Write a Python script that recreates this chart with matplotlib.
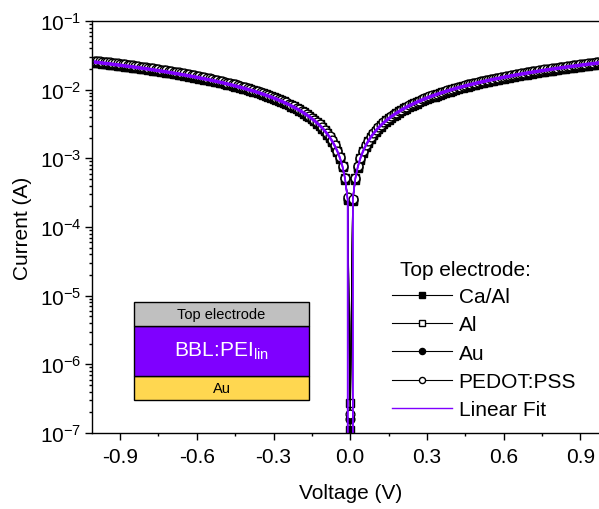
import numpy as np
import matplotlib
matplotlib.use("Agg")
import matplotlib.pyplot as plt
from matplotlib.lines import Line2D
from matplotlib.patches import Rectangle
from matplotlib.ticker import MultipleLocator, LogLocator, LogFormatterMathtext, NullFormatter

plt.rcParams["font.family"] = ["Liberation Sans", "DejaVu Sans"]
plt.rcParams["mathtext.fontset"] = "custom"
plt.rcParams["mathtext.rm"] = "Liberation Sans"
plt.rcParams["mathtext.it"] = "Liberation Sans:italic"
plt.rcParams["mathtext.default"] = "regular"
plt.rcParams["axes.unicode_minus"] = False

# ---------------------------------------------------------------------------
# Data: voltage sweep in V, |current| in mA
# ---------------------------------------------------------------------------

VOLTAGE = [
    -1.00, -0.99, -0.98, -0.97, -0.96, -0.95, -0.94, -0.93, -0.92, -0.91,
    -0.90, -0.89, -0.88, -0.87, -0.86, -0.85, -0.84, -0.83, -0.82, -0.81,
    -0.80, -0.79, -0.78, -0.77, -0.76, -0.75, -0.74, -0.73, -0.72, -0.71,
    -0.70, -0.69, -0.68, -0.67, -0.66, -0.65, -0.64, -0.63, -0.62, -0.61,
    -0.60, -0.59, -0.58, -0.57, -0.56, -0.55, -0.54, -0.53, -0.52, -0.51,
    -0.50, -0.49, -0.48, -0.47, -0.46, -0.45, -0.44, -0.43, -0.42, -0.41,
    -0.40, -0.39, -0.38, -0.37, -0.36, -0.35, -0.34, -0.33, -0.32, -0.31,
    -0.30, -0.29, -0.28, -0.27, -0.26, -0.25, -0.24, -0.23, -0.22, -0.21,
    -0.20, -0.19, -0.18, -0.17, -0.16, -0.15, -0.14, -0.13, -0.12, -0.11,
    -0.10, -0.09, -0.08, -0.07, -0.06, -0.05, -0.04, -0.03, -0.02, -0.01,
    0.00,
    0.01, 0.02, 0.03, 0.04, 0.05, 0.06, 0.07, 0.08, 0.09, 0.10,
    0.11, 0.12, 0.13, 0.14, 0.15, 0.16, 0.17, 0.18, 0.19, 0.20,
    0.21, 0.22, 0.23, 0.24, 0.25, 0.26, 0.27, 0.28, 0.29, 0.30,
    0.31, 0.32, 0.33, 0.34, 0.35, 0.36, 0.37, 0.38, 0.39, 0.40,
    0.41, 0.42, 0.43, 0.44, 0.45, 0.46, 0.47, 0.48, 0.49, 0.50,
    0.51, 0.52, 0.53, 0.54, 0.55, 0.56, 0.57, 0.58, 0.59, 0.60,
    0.61, 0.62, 0.63, 0.64, 0.65, 0.66, 0.67, 0.68, 0.69, 0.70,
    0.71, 0.72, 0.73, 0.74, 0.75, 0.76, 0.77, 0.78, 0.79, 0.80,
    0.81, 0.82, 0.83, 0.84, 0.85, 0.86, 0.87, 0.88, 0.89, 0.90,
    0.91, 0.92, 0.93, 0.94, 0.95, 0.96, 0.97, 0.98, 0.99, 1.00,
]

CA_AL_MA = [
    24.6, 24.4, 24.1, 23.9, 23.6, 23.4, 23.1, 22.9, 22.6, 22.4,
    22.1, 21.9, 21.6, 21.4, 21.2, 20.9, 20.7, 20.4, 20.2, 19.9,
    19.7, 19.4, 19.2, 18.9, 18.7, 18.5, 18.2, 18.0, 17.7, 17.5,
    17.2, 17.0, 16.7, 16.5, 16.2, 16.0, 15.7, 15.5, 15.3, 15.0,
    14.8, 14.5, 14.3, 14.0, 13.8, 13.5, 13.3, 13.0, 12.8, 12.5,
    12.3, 12.1, 11.8, 11.6, 11.3, 11.1, 10.8, 10.6, 10.3, 10.1,
    9.84, 9.59, 9.35, 9.10, 8.86, 8.61, 8.36, 8.12, 7.87, 7.63,
    7.38, 7.13, 6.89, 6.64, 6.40, 6.15, 5.90, 5.66, 5.41, 5.17,
    4.92, 4.67, 4.43, 4.18, 3.94, 3.69, 3.44, 3.20, 2.95, 2.71,
    2.46, 2.21, 1.97, 1.72, 1.48, 1.23, 0.98, 0.74, 0.49, 0.25,
    1.1e-4,
    0.24, 0.48, 0.72, 0.96, 1.21, 1.45, 1.69, 1.93, 2.17, 2.41,
    2.65, 2.89, 3.13, 3.37, 3.62, 3.86, 4.10, 4.34, 4.58, 4.82,
    5.06, 5.30, 5.54, 5.78, 6.03, 6.27, 6.51, 6.75, 6.99, 7.23,
    7.47, 7.71, 7.95, 8.19, 8.44, 8.68, 8.92, 9.16, 9.40, 9.64,
    9.88, 10.1, 10.4, 10.6, 10.8, 11.1, 11.3, 11.6, 11.8, 12.1,
    12.3, 12.5, 12.8, 13.0, 13.3, 13.5, 13.7, 14.0, 14.2, 14.5,
    14.7, 14.9, 15.2, 15.4, 15.7, 15.9, 16.1, 16.4, 16.6, 16.9,
    17.1, 17.4, 17.6, 17.8, 18.1, 18.3, 18.6, 18.8, 19.0, 19.3,
    19.5, 19.8, 20.0, 20.2, 20.5, 20.7, 21.0, 21.2, 21.4, 21.7,
    21.9, 22.2, 22.4, 22.7, 22.9, 23.1, 23.4, 23.6, 23.9, 24.1,
]

AL_MA = [
    25.9, 25.6, 25.4, 25.1, 24.9, 24.6, 24.3, 24.1, 23.8, 23.6,
    23.3, 23.1, 22.8, 22.5, 22.3, 22.0, 21.8, 21.5, 21.2, 21.0,
    20.7, 20.5, 20.2, 19.9, 19.7, 19.4, 19.2, 18.9, 18.6, 18.4,
    18.1, 17.9, 17.6, 17.4, 17.1, 16.8, 16.6, 16.3, 16.1, 15.8,
    15.5, 15.3, 15.0, 14.8, 14.5, 14.2, 14.0, 13.7, 13.5, 13.2,
    13.0, 12.7, 12.4, 12.2, 11.9, 11.7, 11.4, 11.1, 10.9, 10.6,
    10.4, 10.1, 9.84, 9.58, 9.32, 9.07, 8.81, 8.55, 8.29, 8.03,
    7.77, 7.51, 7.25, 6.99, 6.73, 6.48, 6.22, 5.96, 5.70, 5.44,
    5.18, 4.92, 4.66, 4.40, 4.14, 3.89, 3.63, 3.37, 3.11, 2.85,
    2.59, 2.33, 2.07, 1.81, 1.55, 1.30, 1.04, 0.78, 0.52, 0.26,
    2.7e-4,
    0.25, 0.51, 0.76, 1.02, 1.27, 1.52, 1.78, 2.03, 2.29, 2.54,
    2.79, 3.05, 3.30, 3.56, 3.81, 4.06, 4.32, 4.57, 4.83, 5.08,
    5.33, 5.59, 5.84, 6.10, 6.35, 6.60, 6.86, 7.11, 7.37, 7.62,
    7.87, 8.13, 8.38, 8.64, 8.89, 9.14, 9.40, 9.65, 9.91, 10.2,
    10.4, 10.7, 10.9, 11.2, 11.4, 11.7, 11.9, 12.2, 12.4, 12.7,
    13.0, 13.2, 13.5, 13.7, 14.0, 14.2, 14.5, 14.7, 15.0, 15.2,
    15.5, 15.7, 16.0, 16.3, 16.5, 16.8, 17.0, 17.3, 17.5, 17.8,
    18.0, 18.3, 18.5, 18.8, 19.1, 19.3, 19.6, 19.8, 20.1, 20.3,
    20.6, 20.8, 21.1, 21.3, 21.6, 21.8, 22.1, 22.4, 22.6, 22.9,
    23.1, 23.4, 23.6, 23.9, 24.1, 24.4, 24.6, 24.9, 25.1, 25.4,
]

AU_MA = [
    25.3, 25.0, 24.8, 24.5, 24.3, 24.0, 23.8, 23.5, 23.3, 23.0,
    22.8, 22.5, 22.3, 22.0, 21.8, 21.5, 21.3, 21.0, 20.7, 20.5,
    20.2, 20.0, 19.7, 19.5, 19.2, 19.0, 18.7, 18.5, 18.2, 18.0,
    17.7, 17.5, 17.2, 17.0, 16.7, 16.4, 16.2, 15.9, 15.7, 15.4,
    15.2, 14.9, 14.7, 14.4, 14.2, 13.9, 13.7, 13.4, 13.2, 12.9,
    12.7, 12.4, 12.1, 11.9, 11.6, 11.4, 11.1, 10.9, 10.6, 10.4,
    10.1, 9.87, 9.61, 9.36, 9.11, 8.86, 8.60, 8.35, 8.10, 7.84,
    7.59, 7.34, 7.08, 6.83, 6.58, 6.33, 6.07, 5.82, 5.57, 5.31,
    5.06, 4.81, 4.55, 4.30, 4.05, 3.80, 3.54, 3.29, 3.04, 2.78,
    2.53, 2.28, 2.02, 1.77, 1.52, 1.27, 1.01, 0.76, 0.51, 0.26,
    1.6e-4,
    0.25, 0.50, 0.74, 0.99, 1.24, 1.49, 1.74, 1.98, 2.23, 2.48,
    2.73, 2.98, 3.22, 3.47, 3.72, 3.97, 4.22, 4.46, 4.71, 4.96,
    5.21, 5.46, 5.70, 5.95, 6.20, 6.45, 6.70, 6.94, 7.19, 7.44,
    7.69, 7.94, 8.18, 8.43, 8.68, 8.93, 9.18, 9.42, 9.67, 9.92,
    10.2, 10.4, 10.7, 10.9, 11.2, 11.4, 11.7, 11.9, 12.2, 12.4,
    12.6, 12.9, 13.1, 13.4, 13.6, 13.9, 14.1, 14.4, 14.6, 14.9,
    15.1, 15.4, 15.6, 15.9, 16.1, 16.4, 16.6, 16.9, 17.1, 17.4,
    17.6, 17.9, 18.1, 18.4, 18.6, 18.8, 19.1, 19.3, 19.6, 19.8,
    20.1, 20.3, 20.6, 20.8, 21.1, 21.3, 21.6, 21.8, 22.1, 22.3,
    22.6, 22.8, 23.1, 23.3, 23.6, 23.8, 24.1, 24.3, 24.6, 24.8,
]

PEDOT_MA = [
    26.5, 26.2, 26.0, 25.7, 25.4, 25.2, 24.9, 24.6, 24.4, 24.1,
    23.9, 23.6, 23.3, 23.1, 22.8, 22.5, 22.3, 22.0, 21.7, 21.5,
    21.2, 20.9, 20.7, 20.4, 20.1, 19.9, 19.6, 19.3, 19.1, 18.8,
    18.5, 18.3, 18.0, 17.8, 17.5, 17.2, 17.0, 16.7, 16.4, 16.2,
    15.9, 15.6, 15.4, 15.1, 14.8, 14.6, 14.3, 14.0, 13.8, 13.5,
    13.2, 12.9, 12.7, 12.4, 12.1, 11.9, 11.6, 11.3, 11.1, 10.8,
    10.5, 10.2, 9.97, 9.71, 9.43, 9.17, 8.91, 8.65, 8.38, 8.12,
    7.86, 7.60, 7.32, 7.06, 6.80, 6.54, 6.27, 6.01, 5.75, 5.49,
    5.22, 4.96, 4.70, 4.43, 4.17, 3.91, 3.65, 3.38, 3.12, 2.86,
    2.60, 2.34, 2.08, 1.82, 1.56, 1.30, 1.04, 0.78, 0.52, 0.27,
    1.9e-4,
    0.26, 0.51, 0.77, 1.02, 1.28, 1.54, 1.79, 2.05, 2.30, 2.56,
    2.82, 3.07, 3.33, 3.59, 3.84, 4.10, 4.36, 4.62, 4.87, 5.13,
    5.39, 5.65, 5.90, 6.16, 6.42, 6.68, 6.94, 7.20, 7.45, 7.71,
    7.97, 8.23, 8.49, 8.75, 9.01, 9.27, 9.53, 9.79, 10.0, 10.3,
    10.6, 10.8, 11.1, 11.3, 11.6, 11.9, 12.1, 12.4, 12.6, 12.9,
    13.2, 13.4, 13.7, 13.9, 14.2, 14.5, 14.7, 15.0, 15.2, 15.5,
    15.8, 16.0, 16.3, 16.5, 16.8, 17.1, 17.3, 17.6, 17.8, 18.1,
    18.4, 18.6, 18.9, 19.1, 19.4, 19.7, 19.9, 20.2, 20.4, 20.7,
    21.0, 21.2, 21.5, 21.7, 22.0, 22.3, 22.5, 22.8, 23.0, 23.3,
    23.6, 23.8, 24.1, 24.3, 24.6, 24.9, 25.1, 25.4, 25.6, 25.9,
]

SERIES_LABELS = ["Ca/Al", "Al", "Au", "PEDOT:PSS"]
SERIES_DATA = [CA_AL_MA, AL_MA, AU_MA, PEDOT_MA]
SERIES_MARKERS = ["s", "s", "o", "o"]
SERIES_FILLS = ["black", "white", "black", "white"]

X_TICKS = [-0.9, -0.6, -0.3, 0.0, 0.3, 0.6, 0.9]

FIT_COLOR = "#7f00ff"

# ---------------------------------------------------------------------------
# Figure
# ---------------------------------------------------------------------------

W, H = 599, 510
fig = plt.figure(figsize=(W / 100, H / 100), dpi=100)
# axes runs slightly past the right edge of the figure, as in the reference
ax = fig.add_axes([92 / W, 76 / H, 516.4 / W, 412 / H])

v = np.array(VOLTAGE)
handles = []
for label, cur, mk, fill in zip(SERIES_LABELS, SERIES_DATA, SERIES_MARKERS, SERIES_FILLS):
    i_abs = np.array(cur) * 1e-3
    line, = ax.plot(v, i_abs, color="black", lw=0.8, marker=mk, ms=6.3,
                    mfc=fill, mec="black", mew=1.0, label=label)
    handles.append(line)

# linear fit (through origin) of the signed I-V data, shown as |I|
for cur in SERIES_DATA:
    i_signed = np.sign(v) * np.array(cur) * 1e-3
    slope = np.sum(v * i_signed) / np.sum(v * v)
    ax.plot(v, np.abs(slope * v), color=FIT_COLOR, lw=1.0)
handles.append(Line2D([], [], color=FIT_COLOR, lw=1.0))

ax.set_yscale("log")
ax.set_ylim(1e-7, 1e-1)
ax.set_xlim(-1.01, 1.01)

ax.set_xticks(X_TICKS)
ax.set_xticklabels([f"{t:.1f}" for t in X_TICKS])
ax.xaxis.set_minor_locator(MultipleLocator(0.15))
ax.yaxis.set_major_locator(LogLocator(base=10, numticks=10))
ax.yaxis.set_minor_locator(LogLocator(base=10, subs=np.arange(2, 10), numticks=20))
ax.yaxis.set_major_formatter(LogFormatterMathtext())
ax.yaxis.set_minor_formatter(NullFormatter())

ax.tick_params(which="major", direction="out", length=5, width=1, labelsize=15)
ax.tick_params(which="minor", direction="out", length=2.5, width=1)
ax.tick_params(axis="x", which="major", pad=5)
ax.tick_params(axis="y", which="major", pad=2.5)
ax.tick_params(top=False, right=False, which="both")
for sp in ax.spines.values():
    sp.set_linewidth(1.0)

ax.set_xlabel("Voltage (V)", fontsize=15, labelpad=12)
ax.set_ylabel("Current (A)", fontsize=15, labelpad=6)

ax.legend(handles, SERIES_LABELS + ["Linear Fit"], loc="upper left",
          bbox_to_anchor=(392 / W, 1 - 288 / H), bbox_transform=fig.transFigure,
          frameon=False, fontsize=15, handlelength=2.9, handletextpad=0.3,
          labelspacing=0.45, borderpad=0, borderaxespad=0, markerscale=0.7)
fig.text(400 / W, 1 - 270 / H, "Top electrode:", fontsize=15, ha="left", va="center")

# device stack sketch
iax = fig.add_axes([134 / W, 109 / H, 175 / W, 98.3 / H])
iax.set_xlim(0, 1)
iax.set_ylim(0, 1)
iax.axis("off")
layers = [
    (0.0, 0.247, "#ffd750", "Au", "black", 10.5),
    (0.247, 0.509, FIT_COLOR, r"BBL:PEI$_{lin}$", "white", 15),
    (0.756, 0.244, "#c0c0c0", "Top electrode", "black", 10.5),
]
for y0, h, col, txt, tcol, fs in layers:
    iax.add_patch(Rectangle((0, y0), 1, h, facecolor=col, edgecolor="black",
                            lw=1.0, clip_on=False))
    iax.text(0.5, y0 + h / 2, txt, color=tcol, fontsize=fs, ha="center", va="center")

fig.savefig("out.png", dpi=100)
